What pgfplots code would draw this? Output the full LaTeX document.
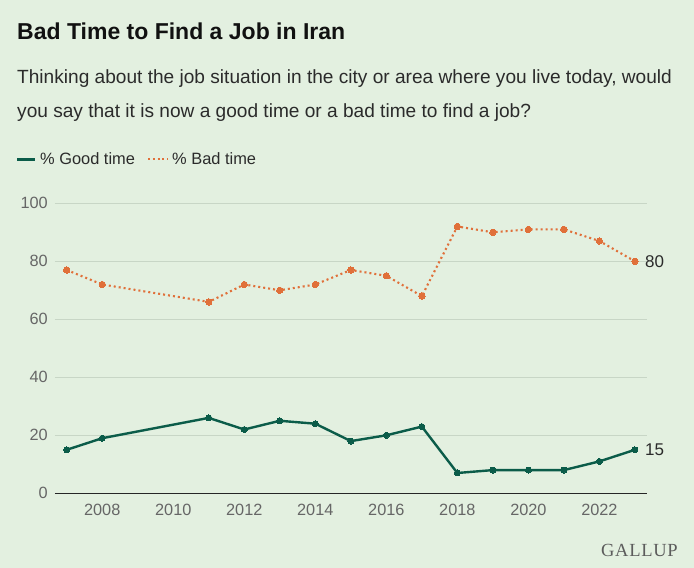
\documentclass[border=0pt]{standalone}
\usepackage{pgfplots}
\pgfplotsset{compat=1.18}
\usepackage{fontspec}
\setmainfont{Liberation Sans}
\newfontfamily\gallupfont[LetterSpace=4]{Liberation Serif}
\definecolor{bg}{HTML}{E3F0E0}
\definecolor{goodc}{HTML}{0B5C49}
\definecolor{badc}{HTML}{E0703A}
\definecolor{gridc}{HTML}{C8D6C6}
\definecolor{tickc}{HTML}{666666}
\definecolor{titlec}{HTML}{111111}
\definecolor{subc}{HTML}{2B2B2B}
\pgfplotstableread{
year good bad
2007 15 77
2008 19 72
2011 26 66
2012 22 72
2013 25 70
2014 24 72
2015 18 77
2016 20 75
2017 23 68
2018 7 92
2019 8 90
2020 8 91
2021 8 91
2022 11 87
2023 15 80
}\datatable
\begin{document}
\begin{tikzpicture}
\fill[bg] (0pt,0pt) rectangle (694pt,568pt);
\node[anchor=base west, inner sep=0pt, text=titlec, font=\fontsize{23}{27}\selectfont\bfseries] at (17pt,528.7pt) {Bad Time to Find a Job in Iran};
\node[anchor=base west, inner sep=0pt, text=subc, font=\fontsize{19.1}{22}\selectfont] at (17pt,484.7pt) {Thinking about the job situation in the city or area where you live today, would};
\node[anchor=base west, inner sep=0pt, text=subc, font=\fontsize{19.1}{22}\selectfont] at (17pt,450.7pt) {you say that it is now a good time or a bad time to find a job?};
% legend
\draw[goodc, line width=2.2pt] (17pt,408.5pt) -- (35pt,408.5pt);
\node[anchor=base west, inner sep=0pt, text=subc, font=\fontsize{16.4}{19}\selectfont] at (40pt,403pt) {\% Good time};
\draw[badc, line width=2pt, dash pattern=on 2pt off 2.8pt] (148pt,408.5pt) -- (168pt,408.5pt);
\node[anchor=base west, inner sep=0pt, text=subc, font=\fontsize{16.4}{19}\selectfont] at (172pt,403pt) {\% Bad time};
\node[anchor=base east, inner sep=0pt, text=tickc!90!black, font=\gallupfont\fontsize{18.5}{20}\selectfont] at (678pt,11pt) {GALLUP};
\begin{axis}[
  at={(55pt,74.7pt)}, anchor=south west,
  scale only axis, width=592pt, height=290pt,
  xmin=2006.67, xmax=2023.34, ymin=0, ymax=100,
  axis x line=bottom, axis y line=left,
  axis line style={-}, x axis line style={draw=black!85, line width=0.9pt},
  y axis line style={draw=none},
  xtick={2008,2010,...,2022}, ytick={0,20,...,100},
  major tick length=0pt,
  ymajorgrids, major grid style={gridc, line width=0.7pt},
  tick label style={text=tickc, font=\fontsize{16.3}{19}\selectfont, inner sep=0pt},
  /pgf/number format/assume math mode=true,
  xticklabel style={/pgf/number format/1000 sep={}, yshift=-11pt},
  yticklabel style={xshift=-7pt},
  clip=false,
]
\addplot[goodc, line width=2.4pt, mark=*, mark size=3pt, mark options={solid, fill=goodc, draw=goodc, line width=0pt}] table[x=year, y=good] {\datatable};
\addplot[badc, line width=2.1pt, dash pattern=on 2pt off 3pt, mark=*, mark size=3.2pt, mark options={solid, fill=badc, draw=badc, line width=0pt}] table[x=year, y=bad] {\datatable};
\node[anchor=west, inner sep=0pt, text=subc, font=\fontsize{17}{19}\selectfont] at (axis cs:2023,80) {\hspace{10pt}80};
\node[anchor=west, inner sep=0pt, text=subc, font=\fontsize{17}{19}\selectfont] at (axis cs:2023,15) {\hspace{10pt}15};
\end{axis}
\end{tikzpicture}
\end{document}
